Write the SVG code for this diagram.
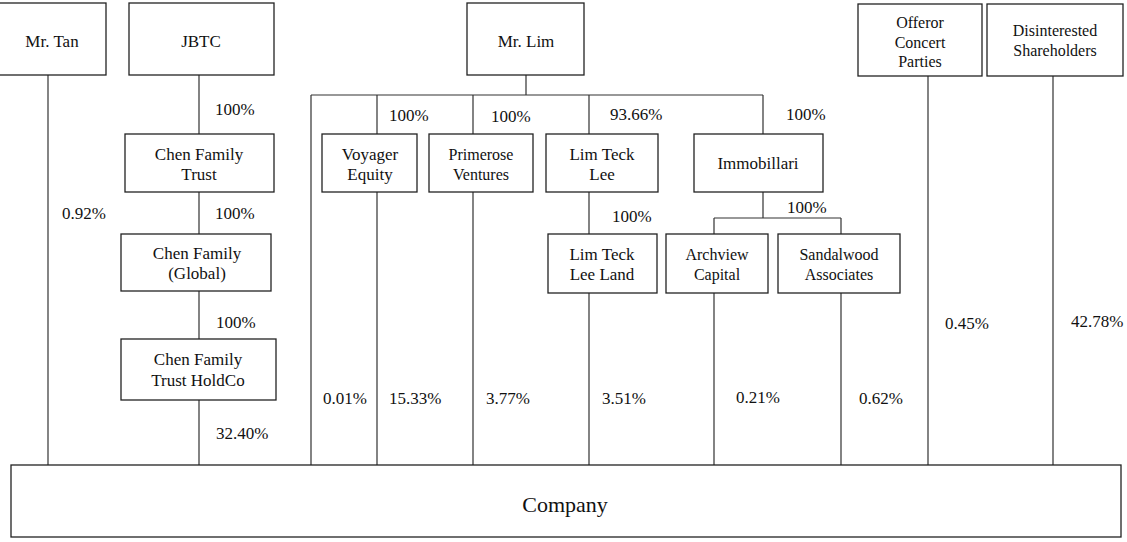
<svg xmlns="http://www.w3.org/2000/svg" width="1127" height="542" viewBox="0 0 1127 542" font-family="Liberation Serif, Times New Roman, DejaVu Serif, serif">
<style>
.box{fill:#fff;stroke:#222;stroke-width:1.3}
.ln{fill:none;stroke:#333;stroke-width:1.2}
text{font-family:'Liberation Serif','Times New Roman','DejaVu Serif',serif;font-size:17px;fill:#111}
.c{text-anchor:middle}
.sm{font-size:16px}
.big{font-size:22px}
</style>
<rect width="1127" height="542" fill="#fff"/>
<g id="connectors">
<path class="ln" d="M48 75V465"/>
<path class="ln" d="M199 75V134M199 192V234M199 291V339M199 400V465"/>
<path class="ln" d="M526 75V95M311 95H763M311 95V465"/>
<path class="ln" d="M377 95V134M377 192V465"/>
<path class="ln" d="M473 95V134M473 192V465"/>
<path class="ln" d="M589 95V134M589 192V234M589 293V465"/>
<path class="ln" d="M763 95V134M763 192V218M714 218H841M714 218V234M841 218V234"/>
<path class="ln" d="M714 293V465M841 293V465"/>
<path class="ln" d="M928 76V465M1053 76V465"/>
</g>
<g id="labels">
<text x="215" y="115">100%</text>
<text x="62" y="219">0.92%</text>
<text x="215" y="219">100%</text>
<text x="216" y="328">100%</text>
<text x="216" y="439">32.40%</text>
<text x="323" y="404">0.01%</text>
<text x="389" y="404">15.33%</text>
<text x="486" y="404">3.77%</text>
<text x="602" y="404">3.51%</text>
<text x="736" y="403">0.21%</text>
<text x="859" y="404">0.62%</text>
<text x="945" y="329">0.45%</text>
<text x="1071" y="327">42.78%</text>
<text x="389" y="121">100%</text>
<text x="491" y="122">100%</text>
<text x="610" y="120">93.66%</text>
<text x="786" y="120">100%</text>
<text x="612" y="222">100%</text>
<text x="787" y="213">100%</text>
</g>
<g id="mr-tan"><rect class="box" x="-2" y="3" width="108" height="72"/><text class="c" x="52" y="47">Mr. Tan</text></g>
<g id="jbtc"><rect class="box" x="129" y="3" width="145" height="72"/><text class="c" x="201" y="47">JBTC</text></g>
<g id="chen-family-trust"><rect class="box" x="125" y="134" width="149" height="58"/><text class="c" x="199" y="160">Chen Family</text><text class="c" x="199" y="180">Trust</text></g>
<g id="chen-family-global"><rect class="box" x="121" y="234" width="150" height="57"/><text class="c" x="197" y="259">Chen Family</text><text class="c" x="197" y="279">(Global)</text></g>
<g id="chen-family-trust-holdco"><rect class="box" x="121" y="339" width="155" height="61"/><text class="c" x="198" y="365">Chen Family</text><text class="c" x="198" y="386">Trust HoldCo</text></g>
<g id="mr-lim"><rect class="box" x="467" y="3" width="117" height="72"/><text class="c" x="526" y="47">Mr. Lim</text></g>
<g id="voyager-equity"><rect class="box" x="322" y="134" width="95" height="58"/><text class="c" x="370" y="160">Voyager</text><text class="c" x="370" y="180">Equity</text></g>
<g id="primerose-ventures"><rect class="box" x="429" y="134" width="104" height="58"/><text class="c sm" x="481" y="160">Primerose</text><text class="c sm" x="481" y="180">Ventures</text></g>
<g id="lim-teck-lee"><rect class="box" x="546" y="134" width="112" height="58"/><text class="c" x="602" y="160">Lim Teck</text><text class="c" x="602" y="180">Lee</text></g>
<g id="immobillari"><rect class="box" x="694" y="134" width="129" height="58"/><text class="c" x="758" y="169">Immobillari</text></g>
<g id="lim-teck-lee-land"><rect class="box" x="548" y="234" width="109" height="59"/><text class="c" x="602" y="260">Lim Teck</text><text class="c" x="602" y="280">Lee Land</text></g>
<g id="archview-capital"><rect class="box" x="666" y="234" width="102" height="59"/><text class="c sm" x="717" y="260">Archview</text><text class="c sm" x="717" y="280">Capital</text></g>
<g id="sandalwood-associates"><rect class="box" x="778" y="234" width="122" height="59"/><text class="c sm" x="839" y="260">Sandalwood</text><text class="c sm" x="839" y="280">Associates</text></g>
<g id="offeror-concert-parties"><rect class="box" x="858" y="4" width="124" height="72"/><text class="c sm" x="920" y="28">Offeror</text><text class="c sm" x="920" y="48">Concert</text><text class="c sm" x="920" y="67">Parties</text></g>
<g id="disinterested-shareholders"><rect class="box" x="987" y="4" width="136" height="72"/><text class="c sm" x="1055" y="36">Disinterested</text><text class="c sm" x="1055" y="56">Shareholders</text></g>
<g id="company"><rect class="box" x="11" y="465" width="1110" height="72"/><text class="c big" x="565" y="512">Company</text></g>
</svg>
